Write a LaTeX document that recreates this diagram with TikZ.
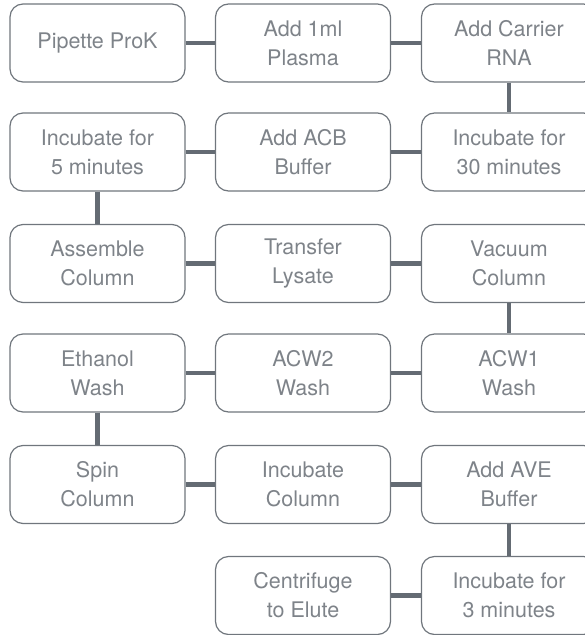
\documentclass[tikz,border=0pt]{standalone}
\usepackage{fontspec}
\setmainfont{TeX Gyre Heros}
\definecolor{txtgray}{RGB}{126,131,137}
\definecolor{boxgray}{RGB}{112,118,125}
\definecolor{linkgray}{RGB}{100,107,115}
\begin{document}
\begin{tikzpicture}[x=1pt,y=-1pt,
  stepbox/.style={draw=boxgray, line width=1.2pt, rounded corners=13pt,
    minimum width=175pt, minimum height=78pt, inner sep=0pt,
    text=txtgray, align=center, font=\fontsize{21.5}{29}\selectfont},
  link/.style={draw=linkgray, line width=4.5pt}]
\useasboundingbox (0,0) rectangle (585,635);
% rows centres
\def\ra{43}\def\rb{152}\def\rc{263.5}\def\rd{373}\def\re{484.5}\def\rf{595.5}
\def\ca{97.5}\def\cb{303}\def\cc{509}
\node[stepbox] (a1) at (\ca,\ra) {Pipette ProK};
\node[stepbox] (a2) at (\cb,\ra) {Add 1ml\\Plasma};
\node[stepbox] (a3) at (\cc,\ra) {Add Carrier\\RNA};
\node[stepbox] (b1) at (\ca,\rb) {Incubate for\\5 minutes};
\node[stepbox] (b2) at (\cb,\rb) {Add ACB\\Buffer};
\node[stepbox] (b3) at (\cc,\rb) {Incubate for\\30 minutes};
\node[stepbox] (c1) at (\ca,\rc) {Assemble\\Column};
\node[stepbox] (c2) at (\cb,\rc) {Transfer\\Lysate};
\node[stepbox] (c3) at (\cc,\rc) {Vacuum\\Column};
\node[stepbox] (d1) at (\ca,\rd) {Ethanol\\Wash};
\node[stepbox] (d2) at (\cb,\rd) {ACW2\\Wash};
\node[stepbox] (d3) at (\cc,\rd) {ACW1\\Wash};
\node[stepbox] (e1) at (\ca,\re) {Spin\\Column};
\node[stepbox] (e2) at (\cb,\re) {Incubate\\Column};
\node[stepbox] (e3) at (\cc,\re) {Add AVE\\Buffer};
\node[stepbox] (f2) at (\cb,\rf) {Centrifuge\\to Elute};
\node[stepbox] (f3) at (\cc,\rf) {Incubate for\\3 minutes};
\draw[link] (a1) -- (a2);
\draw[link] (a2) -- (a3);
\draw[link] (a3) -- (b3);
\draw[link] (b1) -- (b2);
\draw[link] (b2) -- (b3);
\draw[link] (b1) -- (c1);
\draw[link] (c1) -- (c2);
\draw[link] (c2) -- (c3);
\draw[link] (c3) -- (d3);
\draw[link] (d1) -- (d2);
\draw[link] (d2) -- (d3);
\draw[link] (d1) -- (e1);
\draw[link] (e1) -- (e2);
\draw[link] (e2) -- (e3);
\draw[link] (e3) -- (f3);
\draw[link] (f2) -- (f3);
\end{tikzpicture}
\end{document}
